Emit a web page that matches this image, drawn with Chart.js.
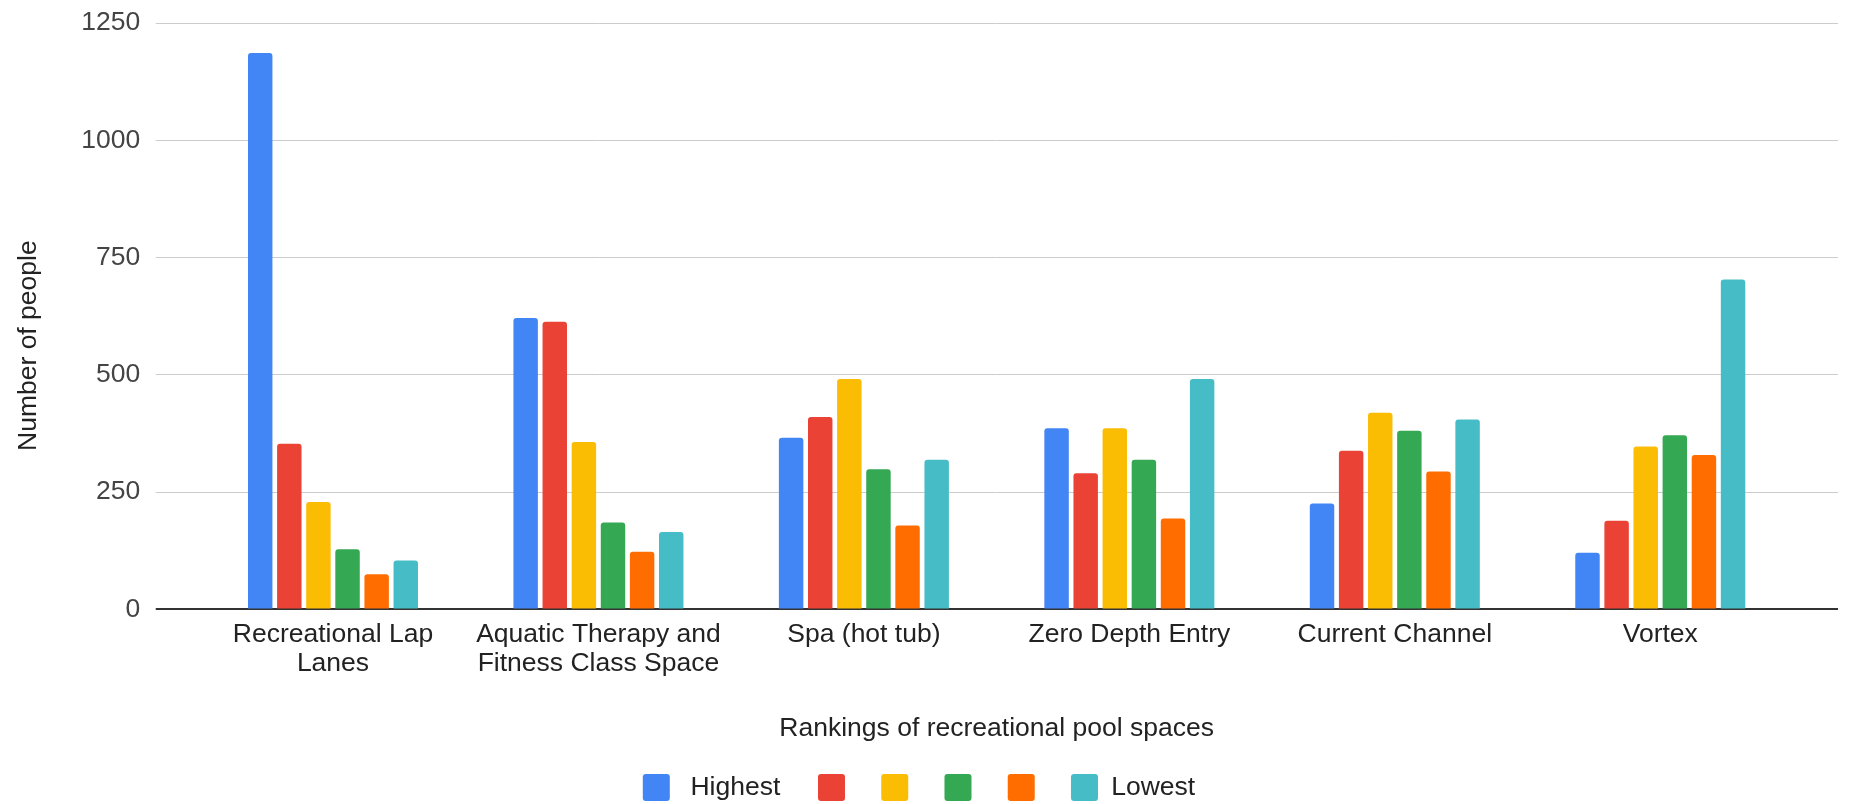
<!DOCTYPE html>
<html>
<head>
<meta charset="utf-8">
<title>Rankings of recreational pool spaces</title>
<script src="https://cdn.jsdelivr.net/npm/chart.js@4.4.0/dist/chart.umd.min.js"></script>
<style>
  html, body { margin: 0; padding: 0; background: #fff; overflow: hidden; }
  #wrap { position: relative; width: 1849px; height: 804px; }
</style>
</head>
<body>
<div id="wrap"><canvas id="poolChart"></canvas></div>
<script>
// categories on the x axis (multi-line ones as arrays)
const categories = [
  ['Recreational Lap', 'Lanes'],
  ['Aquatic Therapy and', 'Fitness Class Space'],
  'Spa (hot tub)',
  'Zero Depth Entry',
  'Current Channel',
  'Vortex'
];

// one series per rank, only first and last are named in the legend
const rankNames = ['Highest', '', '', '', '', 'Lowest'];
const rank1 = [1186, 621, 366, 386, 226, 121];
const rank2 = [353, 613, 410, 290, 338, 189];
const rank3 = [229, 357, 491, 386, 419, 347];
const rank4 = [128, 185, 299, 319, 381, 371];
const rank5 = [75, 123, 179, 194, 294, 329];
const rank6 = [104, 165, 319, 491, 405, 703];

const yTicks = [0, 250, 500, 750, 1000, 1250];

const colors = ['#4285f4', '#ea4335', '#fbbc04', '#34a853', '#ff6d01', '#46bdc6'];
const FONT = 'Liberation Sans, Arial, sans-serif';

const series = [rank1, rank2, rank3, rank4, rank5, rank6];
const datasets = series.map((values, i) => ({
  label: rankNames[i],
  data: values,
  backgroundColor: colors[i],
  borderRadius: 3,
  borderSkipped: 'start',
  categoryPercentage: 0.658,
  barPercentage: 0.84
}));

// gridline colour: dark baseline at 0, light grey elsewhere
const gridColor = c => (c.tick && c.tick.value === 0) ? '#333333' : '#cccccc';
const gridWidth = c => (c.tick && c.tick.value === 0) ? 2 : 1;

// legend: a bit more room round a named entry, like the sheet legend
const legendLabels = chart =>
  Chart.defaults.plugins.legend.labels.generateLabels(chart)
    .map(item => (item.text === rankNames[0] ? { ...item, text: ' ' + item.text + '  ' } : item));

const ctx = document.getElementById('poolChart').getContext('2d');
new Chart(ctx, {
  type: 'bar',
  data: { labels: categories, datasets },
  options: {
    responsive: true,
    maintainAspectRatio: false,
    animation: false,
    layout: { padding: { top: 23, bottom: -7, left: 0, right: 11 } },
    plugins: {
      tooltip: { enabled: false },
      legend: {
        position: 'bottom',
        labels: {
          color: '#222',
          font: { family: FONT, size: 26.5 },
          boxWidth: 27,
          boxHeight: 27,
          padding: 23,
          useBorderRadius: true,
          borderRadius: 3,
          generateLabels: legendLabels
        }
      }
    },
    scales: {
      x: {
        grid: { display: false, drawTicks: false },
        border: { display: false },
        ticks: {
          color: '#222',
          font: { family: FONT, size: 26.5, lineHeight: 1.1 },
          padding: 10.5,
          maxRotation: 0,
          minRotation: 0,
          autoSkip: false
        },
        title: {
          display: true,
          text: 'Rankings of recreational pool spaces',
          color: '#222',
          font: { family: FONT, size: 26.5, lineHeight: 1.2 },
          padding: { top: 24.5, bottom: 6 }
        }
      },
      y: {
        min: yTicks[0],
        max: yTicks[yTicks.length - 1],
        afterBuildTicks: axis => { axis.ticks = yTicks.map(v => ({ value: v })); },
        border: { display: false },
        grid: { color: gridColor, lineWidth: gridWidth, tickLength: 44.5 },
        ticks: {
          color: '#444',
          font: { family: FONT, size: 26.5, lineHeight: 0.5 },
          padding: 15.5,
          callback: v => String(v)
        },
        title: {
          display: true,
          // trailing spaces push the visible text a little below the middle
          text: 'Number of people        ',
          color: '#222',
          font: { family: FONT, size: 26.5, lineHeight: 1.2 },
          padding: { top: 12.4, bottom: 21.6 }
        }
      },
      // right-hand axis only to carry the gridlines past the category band
      yRight: {
        type: 'linear',
        position: 'right',
        min: yTicks[0],
        max: yTicks[yTicks.length - 1],
        afterBuildTicks: axis => { axis.ticks = yTicks.map(v => ({ value: v })); },
        border: { display: false },
        grid: { color: gridColor, lineWidth: gridWidth, tickLength: 45, drawOnChartArea: false },
        ticks: { display: false }
      }
    }
  }
});
</script>
</body>
</html>
